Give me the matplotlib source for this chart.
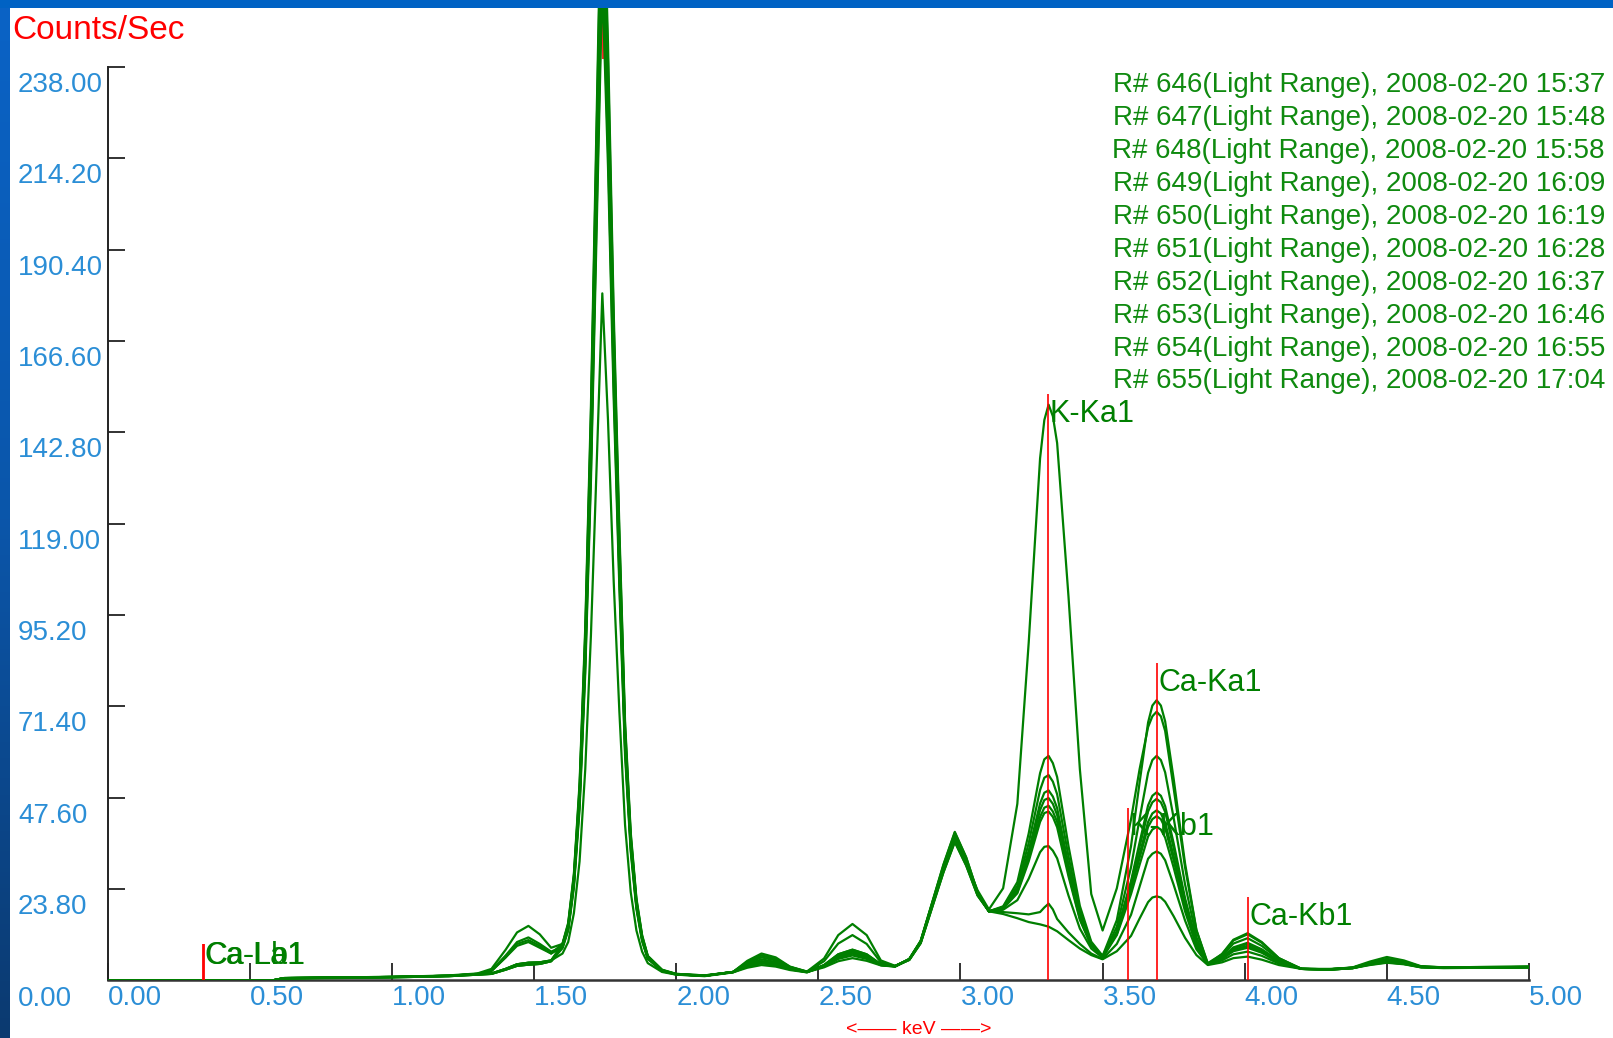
import matplotlib
matplotlib.use("Agg")
import matplotlib.pyplot as plt
import numpy as np
from matplotlib.patches import Rectangle
from matplotlib.colors import LinearSegmentedColormap
from matplotlib.transforms import blended_transform_factory, offset_copy

plt.rcParams["font.family"] = ["Liberation Sans", "DejaVu Sans"]

## Spectrum data (energy in keV, counts/sec)
energy_kev = [
    0.00, 0.58, 0.62, 0.80, 1.00, 1.20, 1.30,
    1.35, 1.40, 1.44, 1.48, 1.52, 1.56,
    1.60, 1.62, 1.64, 1.66, 1.68, 1.70, 1.72, 1.74, 1.76, 1.78, 1.80, 1.82, 1.84, 1.86, 1.88, 1.90, 1.95, 2.00,
    2.10, 2.20,
    2.25, 2.30, 2.35, 2.40,
    2.46,
    2.52, 2.57, 2.62, 2.67, 2.72, 2.77,
    2.82, 2.86, 2.90, 2.94, 2.98, 3.02, 3.06,
    3.10, 3.15, 3.20, 3.24, 3.28, 3.295, 3.31, 3.325, 3.34, 3.38, 3.42, 3.46, 3.50,
    3.55, 3.60, 3.63, 3.66, 3.675, 3.69, 3.705, 3.72, 3.75, 3.79, 3.83, 3.87,
    3.92, 3.96, 4.01, 4.06, 4.12, 4.20,
    4.30, 4.38, 4.44, 4.50, 4.56, 4.62, 4.70, 4.85, 5.00,
]

r646 = [
    0, 0, 0.6, 0.7, 0.9, 1.2, 1.6,
    1.8, 3.0, 4.2, 4.6, 4.7, 5.2,
    9, 14, 26, 48, 86, 140, 210, 280, 228, 163, 110, 63, 36, 20, 11, 6, 2.6, 1.6,
    1.2, 2.2,
    3.9, 5, 4.4, 3.0,
    2.2,
    3.8, 6.0, 7, 6.0, 4.0, 3.7,
    5.5, 10, 19.5, 28.9, 37, 30.7, 23.5,
    18.5, 24, 46, 88, 136, 146, 150, 147, 140, 100, 55, 22.5, 13,
    24, 42, 55, 66, 68.8, 70, 68.8, 65, 50, 29.5, 13, 4.5,
    6.8, 10.4, 12, 9.8, 5.8, 3.0,
    2.9, 3.3, 4.6, 5.5, 4.8, 3.6, 3.4, 3.4, 3.5,
]
r647 = [
    0, 0, 0.5, 0.7, 0.8, 1.1, 1.5,
    1.7, 2.8, 3.8, 4.1, 4.3, 5.0,
    8.6, 13.3, 24.7, 45.6, 81.7, 133, 199.5, 266, 216.6, 154.9, 104.5, 59.9, 34.2, 19, 10.5, 5.7, 2.5, 1.6,
    1.2, 2.2,
    4.5, 6, 5.2, 3.3,
    2.2,
    4.0, 6.8, 8, 6.8, 4.2, 3.7,
    5.6, 10.3, 20.2, 30.2, 38.7, 32.1, 23,
    18, 19.3, 25.6, 38.3, 54, 57.6, 58.5, 56.6, 53, 35, 19.4, 10.1, 6.4,
    15.7, 35, 51.5, 67.2, 71.6, 73, 71.6, 67.5, 52.5, 30.5, 13.2, 4.2,
    6.9, 10.6, 12.3, 10, 5.8, 3.0,
    2.9, 3.4, 4.9, 6.1, 5.2, 3.7, 3.4, 3.5, 3.6,
]
r648 = [
    0, 0, 0.6, 0.8, 0.9, 1.2, 1.6,
    1.8, 3.0, 4.2, 4.6, 4.7, 5.2,
    9.5, 14.7, 27.3, 50.4, 90.3, 147, 220.5, 294, 239.4, 171.2, 115.5, 66.2, 37.8, 21, 11.6, 6.3, 2.7, 1.7,
    1.3, 2.2,
    3.6, 4.5, 4.0, 2.9,
    2.2,
    3.9, 6.4, 7.5, 6.4, 4.1, 3.7,
    5.5, 10.1, 19.7, 29.3, 37.5, 31.1, 22.7,
    18, 19.1, 24.6, 35.8, 49.6, 52.8, 53.5, 51.8, 48.5, 32.3, 18.1, 9.7, 6.3,
    14, 29.5, 42.1, 54.1, 57.4, 58.5, 57.4, 54.2, 42.3, 25, 11.3, 4.2,
    6.4, 9.6, 11, 9, 5.5, 3.0,
    2.9, 3.3, 4.5, 5.3, 4.7, 3.6, 3.3, 3.4, 3.5,
]
r649 = [
    0, 0, 0.6, 0.7, 0.9, 1.2, 1.7,
    2.4, 6.0, 9.0, 10.0, 8.5, 7.0,
    8.7, 13.6, 25.2, 46.6, 83.4, 135.8, 203.7, 271.6, 221.2, 158.1, 106.7, 61.1, 34.9, 19.4, 10.7, 5.8, 2.5, 1.6,
    1.2, 2.2,
    4.2, 5.5, 4.8, 3.2,
    2.2,
    3.8, 6.0, 7, 6.0, 4.0, 3.7,
    5.4, 9.8, 19.2, 28.5, 36.5, 30.3, 22.3,
    18, 19, 23.8, 33.8, 46.1, 48.9, 49.5, 47.9, 44.9, 30.1, 17.1, 9.4, 6.2,
    12.8, 25.9, 35.9, 45.6, 48.1, 49, 48.1, 45.4, 35.7, 21.4, 10.1, 4.2,
    6, 8.6, 9.8, 8.1, 5.1, 3.0,
    2.8, 3.2, 4.3, 5.0, 4.5, 3.5, 3.3, 3.3, 3.4,
]
r650 = [
    0, 0, 0.5, 0.7, 0.8, 1.1, 1.5,
    1.7, 2.8, 3.8, 4.1, 4.3, 5.0,
    9.3, 14.4, 26.8, 49.4, 88.6, 144.2, 216.3, 288.4, 234.8, 167.9, 113.3, 64.9, 37.1, 20.6, 11.3, 6.2, 2.7, 1.6,
    1.2, 2.1,
    3.3, 4, 3.6, 2.7,
    2.1,
    3.6, 5.6, 6.5, 5.6, 4.0, 3.6,
    5.5, 10.2, 20, 29.6, 38, 31.5, 22.8,
    18, 18.9, 23.4, 32.8, 44.4, 47, 47.5, 46, 43.1, 29, 16.6, 9.3, 6.2,
    12.6, 25.3, 34.8, 44, 46.4, 47.3, 46.4, 43.9, 34.5, 20.8, 9.9, 4.2,
    5.9, 8.4, 9.5, 7.9, 5, 3.0,
    3.0, 3.3, 4.6, 5.6, 4.9, 3.6, 3.4, 3.5, 3.6,
]
r651 = [
    0, 0, 0.6, 0.7, 0.9, 1.2, 1.6,
    1.8, 3.0, 4.2, 4.6, 4.7, 5.2,
    7, 10, 17.5, 31, 55, 90, 134, 179, 146, 104, 70, 40.5, 23, 13, 7.5, 4.5, 2.2, 1.5,
    1.2, 2.2,
    3.9, 5, 4.4, 3.0,
    2.2,
    3.4, 5.0, 5.8, 5.1, 3.9, 3.6,
    5.4, 9.7, 19, 28.2, 36.2, 30, 22.2,
    18, 18.8, 23, 31.8, 42.6, 45, 45.5, 44, 41.3, 27.9, 16.1, 9.1, 6.2,
    12.3, 24.1, 32.9, 41.3, 43.5, 44.3, 43.5, 41.1, 32.4, 19.6, 9.5, 4.2,
    5.7, 8, 9, 7.5, 4.9, 3.0,
    2.8, 3.2, 4.2, 4.8, 4.3, 3.5, 3.3, 3.3, 3.4,
]
r652 = [
    0, 0, 0.6, 0.8, 0.9, 1.2, 1.7,
    2.5, 6.0, 9.5, 10.5, 9.0, 7.0,
    9.6, 15, 27.8, 51.4, 92, 149.8, 224.7, 299.6, 244, 174.4, 117.7, 67.4, 38.5, 21.4, 11.8, 6.4, 2.8, 1.7,
    1.3, 2.2,
    4.8, 6.5, 5.6, 3.5,
    2.2,
    3.9, 6.4, 7.5, 6.4, 4.1, 3.7,
    5.5, 10.1, 19.7, 29.3, 37.5, 31.1, 22.7,
    18, 18.7, 22.7, 31, 41.3, 43.6, 44, 42.6, 39.9, 27.1, 15.8, 9, 6.1,
    12.1, 23.6, 31.9, 40, 42.0, 42.8, 42.0, 39.7, 31.3, 19.1, 9.3, 4.2,
    5.7, 7.8, 8.8, 7.4, 4.8, 3.0,
    2.9, 3.3, 4.4, 5.2, 4.6, 3.5, 3.4, 3.4, 3.5,
]
r653 = [
    0, 0, 0.5, 0.6, 0.8, 1.1, 1.5,
    1.7, 2.8, 3.8, 4.1, 4.3, 5.0,
    8.4, 13, 24.2, 44.6, 80, 130.2, 195.3, 260.4, 212, 151.6, 102.3, 58.6, 33.5, 18.6, 10.2, 5.6, 2.4, 1.5,
    1.1, 2.1,
    3.6, 4.5, 4.0, 2.9,
    2.1,
    4.0, 6.8, 8, 6.8, 4.2, 3.7,
    5.6, 10.3, 20.1, 30, 38.5, 32, 23,
    18, 18.4, 20.9, 26.5, 33.4, 34.8, 35, 33.8, 31.8, 22.1, 13.5, 8.3, 5.9,
    11.8, 22.5, 30.1, 37.5, 39.3, 40, 39.3, 37.2, 29.4, 18, 8.9, 4.2,
    5.6, 7.6, 8.5, 7.2, 4.7, 3.0,
    2.8, 3.2, 4.0, 4.6, 4.2, 3.4, 3.3, 3.3, 3.4,
]
r654 = [
    0, 0, 0.6, 0.7, 0.9, 1.2, 1.7,
    2.6, 6.5, 10.0, 11.2, 9.5, 7.5,
    8.8, 13.7, 25.5, 47, 84.3, 137.2, 205.8, 274.4, 223.4, 159.7, 107.8, 61.7, 35.3, 19.6, 10.8, 5.9, 2.5, 1.6,
    1.2, 2.2,
    4.8, 6.5, 5.6, 3.5,
    2.3,
    5.0, 9.6, 11.8, 9.5, 4.7, 3.8,
    5.3, 9.7, 18.9, 28.1, 36, 29.9, 22.1,
    18, 17.8, 17.5, 17.2, 17.8, 19, 20, 18.5, 16, 12.5, 9.5, 7, 5.6,
    9.5, 17.1, 24.4, 31.7, 33.0, 33.6, 33.0, 31.3, 24.9, 15.6, 8.1, 4.2,
    5.2, 6.8, 7.5, 6.4, 4.4, 3.0,
    2.9, 3.2, 4.3, 5.0, 4.5, 3.5, 3.3, 3.4, 3.5,
]
r655 = [
    0, 0, 0.6, 0.8, 0.9, 1.3, 1.8,
    3.0, 8.0, 12.5, 14.2, 12.0, 8.5,
    9.5, 14, 26, 48, 86, 140, 210, 280, 228, 163, 110, 63, 36, 20, 11, 6, 2.6, 1.6,
    1.2, 2.2,
    5.1, 7, 6.0, 3.6,
    2.3,
    5.7, 11.8, 14.7, 11.8, 5.2, 3.8,
    5.5, 10, 19.5, 28.9, 37, 30.7, 22.5,
    18, 17.3, 16.2, 15.2, 14.6, 14.3, 14, 13.4, 12.8, 10.5, 8.3, 6.6, 5.5,
    7.6, 11.6, 16.1, 20.4, 21.6, 21.9, 21.6, 20.5, 16.7, 11.1, 6.6, 4.0,
    4.7, 5.8, 6.2, 5.4, 4.0, 3.0,
    2.8, 3.2, 4.1, 4.7, 4.3, 3.4, 3.2, 3.3, 3.4,
]
spectra = [r646, r647, r648, r649, r650, r651, r652, r653, r654, r655]

run_ids = ["646", "647", "648", "649", "650", "651", "652", "653", "654", "655"]
run_times = ["15:37", "15:48", "15:58", "16:09", "16:19", "16:28", "16:37", "16:46", "16:55", "17:04"]
run_date = "2008-02-20"

## Element marker lines (label, energy keV, top of marker in counts/sec)
marker_names = ["K-Ka1", "K-Kb1", "Ca-Ka1", "Ca-Kb1"]
marker_kev = [3.308, 3.590, 3.692, 4.010]
marker_top = [152.8, 45.0, 82.6, 21.7]
ca_l_names = ["Ca-La1", "Ca-Lb1"]
ca_l_kev = [0.334, 0.338]
ca_l_top = 9.5
si_marker_kev = 1.742

x_ticks = [0.0, 0.5, 1.0, 1.5, 2.0, 2.5, 3.0, 3.5, 4.0, 4.5, 5.0]
x_tick_labels = ["0.00", "0.50", "1.00", "1.50", "2.00", "2.50", "3.00", "3.50", "4.00", "4.50", "5.00"]
y_ticks = [0, 23.8, 47.6, 71.4, 95.2, 119.0, 142.8, 166.6, 190.4, 214.2, 238.0]
y_tick_labels = ["0.00", "23.80", "47.60", "71.40", "95.20", "119.00", "142.80", "166.60", "190.40", "214.20", "238.00"]

W, H = 1613, 1038
tick_blue = "#2b8ed6"
curve_green = "#007f00"
text_green = "#0f8a0f"

fig = plt.figure(figsize=(W / 100, H / 100), dpi=100, facecolor="white")

## Background: blue slide frame along the top and left edges
bg = fig.add_axes([0, 0, 1, 1], zorder=0)
grad = np.linspace(0, 1, 256).reshape(-1, 1)
blue_cmap = LinearSegmentedColormap.from_list("frame", ["#0a63c6", "#0b56aa", "#0c3a70"])
bg.imshow(grad, extent=(0, 9.5, H, 0), cmap=blue_cmap, aspect="auto")
bg.add_patch(Rectangle((0, 0), W, 8, color="#0062c4", lw=0))
bg.set_xlim(0, W)
bg.set_ylim(H, 0)
bg.axis("off")

## Plot area: x=0 at px 107.7, 5 keV at px 1529; y=0 at px 980.4, 238 at px 66.9
y0_px, y238_px, top_px = 980.4, 66.9, 8.0
ymax = 238.0 * (y0_px - top_px) / (y0_px - y238_px)
ax = fig.add_axes([107.7 / W, (H - y0_px) / H, (1529 - 107.7) / W, (y0_px - top_px) / H], zorder=1)
ax.patch.set_alpha(0)
ax.set_xlim(0, 5.0)
ax.set_ylim(0, ymax)

# Si marker: only its tip shows above the cluster of curves
ax.vlines(si_marker_kev, 240, ymax * 1.1, color="red", lw=1.2, zorder=2)
for values in spectra:
    ax.plot(energy_kev, values, color=curve_green, lw=1.6, zorder=3)

label_trans = offset_copy(ax.transData, fig=fig, x=0, y=-4.6, units="dots")
ax.vlines(marker_kev, 0, marker_top, color="red", lw=1.2, zorder=5)
for name, kev, top in zip(marker_names, marker_kev, marker_top):
    ax.text(kev + 0.006, top, name, color=curve_green, fontsize=22, ha="left", va="top",
            zorder=6, transform=label_trans)

ax.vlines(ca_l_kev, 0, ca_l_top, color="red", lw=1.3, zorder=5)
for name, kev in zip(ca_l_names, ca_l_kev):
    ax.text(kev + 0.006, 11.5, name, color=curve_green, fontsize=22, ha="left", va="top",
            zorder=6, transform=label_trans)

for side in ["top", "right"]:
    ax.spines[side].set_visible(False)
ax.spines["left"].set_bounds(0, 238.0)
ax.spines["left"].set_color("#222222")
ax.spines["left"].set_linewidth(1.4)
ax.spines["bottom"].set_color("#333333")
ax.spines["bottom"].set_linewidth(1.8)

ax.set_xticks(x_ticks, labels=x_tick_labels)
ax.set_yticks(y_ticks)
ax.tick_params(axis="x", direction="in", length=12, width=1.3, color="#222222",
               pad=3, labelsize=20, labelcolor=tick_blue)
ax.tick_params(axis="y", direction="in", length=12, width=1.3, color="#222222",
               labelleft=False)
plt.setp(ax.get_xticklabels(), ha="left")

# y labels sit left-aligned at the frame edge, just below their tick
ylab_trans = offset_copy(blended_transform_factory(bg.transData, ax.transData),
                         fig=fig, x=0, y=-5.1, units="dots")
for val, lab in zip(y_ticks, y_tick_labels):
    ax.text(18, val, lab, color=tick_blue, fontsize=20, ha="left", va="top",
            transform=ylab_trans, clip_on=False)

## Texts around the plot
bg.text(12, 15, "Counts/Sec", color="red", fontsize=24, ha="left", va="top")
bg.text(919, 1038, "<—— keV ——>", color="red", fontsize=14, ha="center", va="bottom")
for i, (rid, tm) in enumerate(zip(run_ids, run_times)):
    bg.text(1605, 85.3 + 32.9 * i, f"R# {rid}(Light Range), {run_date} {tm}",
            color=text_green, fontsize=20, ha="right", va="center")

fig.savefig("out.png", dpi=100)
